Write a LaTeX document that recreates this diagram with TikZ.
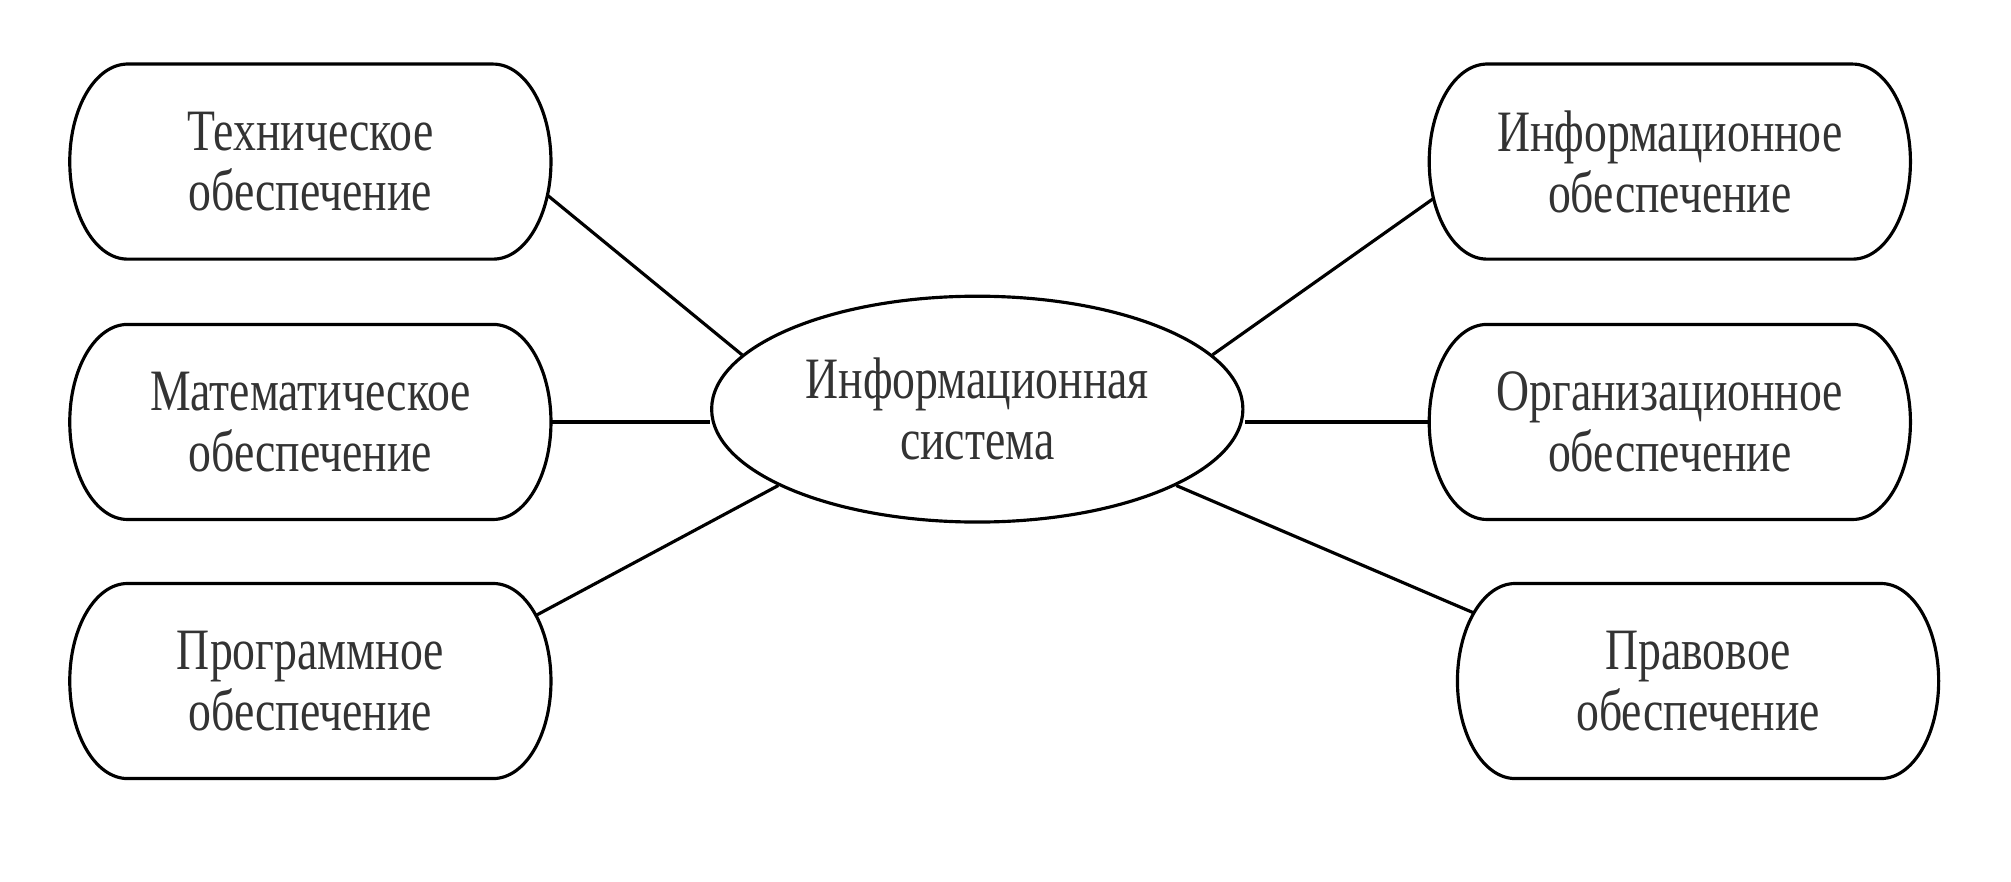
\documentclass[tikz,border=0pt]{standalone}
\usepackage{fontspec}
\newfontfamily\boxfont[FakeStretch=0.78]{Liberation Serif}
\usetikzlibrary{shapes.geometric}
\usetikzlibrary{positioning}

\begin{document}
\begin{tikzpicture}[x=0.01cm,y=0.01cm,
    line width=0.7pt,
    every node/.style={font=\boxfont\fontsize{13}{13.5}\selectfont, text=black!80},
    support/.style={minimum width=3.75cm, minimum height=1.52cm, align=center, inner sep=0pt, outer sep=0pt,
        append after command={
            ([xshift=0.45cm]\tikzlastnode.north west) -- ([xshift=-0.45cm]\tikzlastnode.north east)
            arc[start angle=90, end angle=-90, x radius=0.45cm, y radius=0.76cm]
            -- ([xshift=0.45cm]\tikzlastnode.south west)
            arc[start angle=270, end angle=90, x radius=0.45cm, y radius=0.76cm]
            -- cycle}},
    system/.style={ellipse, draw, minimum width=4.14cm, minimum height=1.76cm, align=center, inner sep=0pt}]

            \useasboundingbox (0,0) rectangle (1568,687);

            % centre
            \node[system] (is) at (762, 368) {Информационная\\система};

            % left side
            \draw (242, 561) node[support] (tech) {Техническое\\обеспечение};
            \draw (242, 358) node[support] (math) {Математическое\\обеспечение};
            \draw (242, 156) node[support] (prog) {Программное\\обеспечение};

            % right side
            \draw (1302, 561) node[support] (info) {Информационное\\обеспечение};
            \draw (1302, 358) node[support] (org) {Организационное\\обеспечение};
            \draw (1324, 156) node[support] (prav) {Правовое\\обеспечение};

            \draw ([shift={(-3,-26)}]tech.east) -- (is.167);
            \draw (math.east) -- (math.east -| is.west);
            \draw ([shift={(-12,51)}]prog.east) -- (is.201);

            \draw ([shift={(3,-29)}]info.west) -- (is.13);
            \draw (org.west) -- (org.west -| is.east);
            \draw ([shift={(13,53)}]prav.west) -- (is.339);
        \end{tikzpicture}
\end{document}
